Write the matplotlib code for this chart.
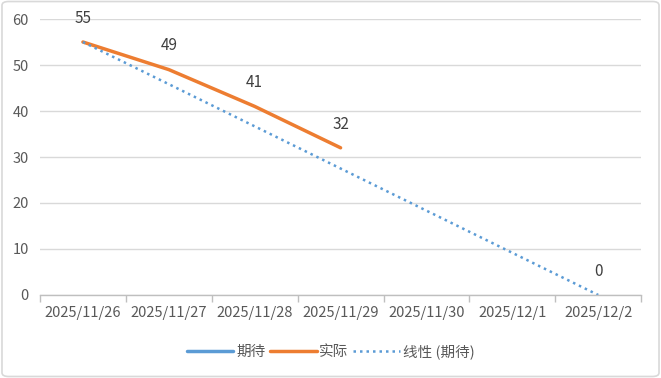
import numpy as np
import matplotlib.pyplot as plt
from matplotlib.patches import FancyBboxPatch

plt.rcParams['font.family'] = ['Noto Sans CJK SC', 'DejaVu Sans']

# Data
dates = ['2025/11/26', '2025/11/27', '2025/11/28', '2025/11/29',
         '2025/11/30', '2025/12/1', '2025/12/2']
expected = [55, np.nan, np.nan, np.nan, np.nan, np.nan, 0]
actual = [55, 49, 41, 32]

text_color = '#595959'
blue = '#5B9BD5'
orange = '#ED7D31'

fig = plt.figure(figsize=(6.61, 3.78), dpi=100)
ax = fig.add_axes([0.0605, 0.2196, 0.9095, 0.7301])

x = np.arange(len(dates))
exp = np.array(expected, dtype=float)
ax.plot(x, exp, color=blue, lw=2.5, label='期待', solid_capstyle='round')
ax.plot(x[:len(actual)], actual, color=orange, lw=2.5, label='实际', solid_capstyle='round')

# linear trendline of expected
mask = ~np.isnan(exp)
k, b = np.polyfit(x[mask] + 1, exp[mask], 1)
ax.plot(x, k * (x + 1) + b, color=blue, lw=1.8, ls=(0, (1, 1.6)), label='线性 (期待)')

# data labels
for i, v in enumerate(expected):
    if not np.isnan(v):
        ax.annotate(f'{v:g}', (i, v), xytext=(0, 11), textcoords='offset points',
                    ha='center', va='bottom', fontsize=11, color='#404040')
for i, v in enumerate(actual[1:], start=1):
    ax.annotate(f'{v:g}', (i, v), xytext=(0, 11), textcoords='offset points',
                ha='center', va='bottom', fontsize=11, color='#404040')

ax.set_xlim(-0.5, len(dates) - 0.5)
ax.set_ylim(0, 60)
ax.set_yticks(range(0, 61, 10))
ax.set_xticks(x)
ax.set_xticklabels(dates)
ax.set_xticks(np.arange(-0.5, len(dates)), minor=True)
ax.tick_params(axis='x', which='major', length=0, pad=8, labelsize=10.5, labelcolor=text_color)
ax.tick_params(axis='x', which='minor', length=5, color='#BFBFBF', width=1)
ax.tick_params(axis='y', length=0, pad=8, labelsize=10.5, labelcolor=text_color)
ax.grid(axis='y', color='#D9D9D9', lw=1)
ax.set_axisbelow(True)
for s in ['top', 'right', 'left']:
    ax.spines[s].set_visible(False)
ax.spines['bottom'].set_color('#BFBFBF')
ax.spines['bottom'].set_linewidth(1)

fig.legend(loc='center', bbox_to_anchor=(0.5, 0.07), ncol=3, frameon=False,
           fontsize=10.5, labelcolor=text_color, handlelength=3.2,
           handletextpad=0.2, columnspacing=0.3)

border = FancyBboxPatch((0.003, 0.004), 0.994, 0.992, boxstyle='round,pad=0,rounding_size=0.01',
                        transform=fig.transFigure, fill=False, edgecolor='#D9D9D9', lw=1.2)
fig.patches.append(border)

fig.savefig('out.png', dpi=100)
